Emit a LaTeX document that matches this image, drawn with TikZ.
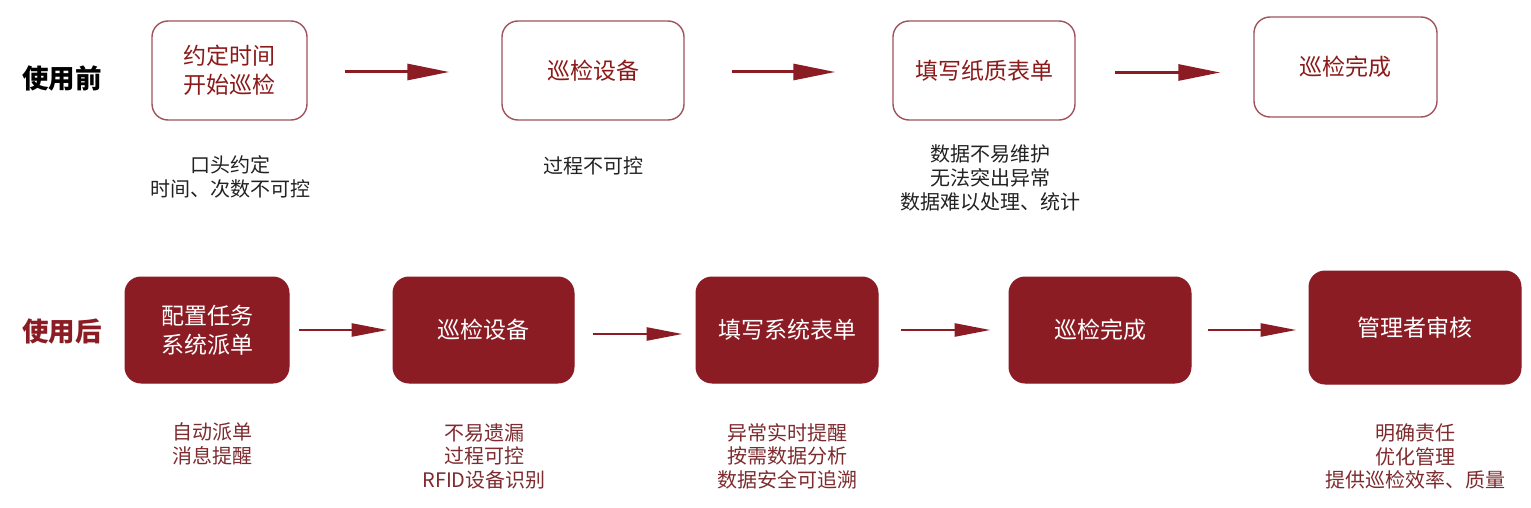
\documentclass[tikz,border=0pt]{standalone}
\usepackage{fontspec}
\setmainfont{Noto Sans CJK SC}
\usetikzlibrary{arrows.meta}
\definecolor{dred}{HTML}{8B1C24}
\definecolor{bord}{HTML}{A0525A}
\definecolor{txtred}{HTML}{8B1A1A}
\definecolor{notered}{HTML}{7D2B2E}
\definecolor{notegray}{HTML}{222222}
\begin{document}
\begin{tikzpicture}[x=1pt,y=-1pt,
  obox/.style={draw=bord, line width=1.4pt, rounded corners=16pt, fill=white, text=txtred,
    align=center, inner sep=0pt, font={\fontsize{23}{29}\selectfont}},
  fbox/.style={draw=dred, line width=1pt, rounded corners=16pt, fill=dred, text=white,
    align=center, inner sep=0pt, font={\fontsize{23}{29}\selectfont}},
  tnote/.style={text=notegray, align=center, inner sep=0pt, font={\fontsize{20}{24}\selectfont}},
  bnote/.style={text=notered, align=center, inner sep=0pt, font={\fontsize{20}{23.5}\selectfont}},
  head/.style={inner sep=0pt, font={\fontsize{26.5}{30}\selectfont\bfseries}},
  tarr/.style={draw=dred, line width=3pt, -{Triangle[length=42pt,width=16pt]}},
  barr/.style={draw=dred, line width=2.6pt, -{Triangle[length=36pt,width=13pt]}}
]
\useasboundingbox (0,0) rectangle (1531,508);

% headings
\node[head, text=black] (h1) at (62,78) {使用前};
\node[head, text=dred] (h2) at (62,331) {使用后};

% top row
\node[obox, minimum width=155pt, minimum height=99pt] (t1) at (229.5,70.5) {约定时间\\开始巡检};
\node[obox, minimum width=182pt, minimum height=99pt] (t2) at (593,70.5) {巡检设备};
\node[obox, minimum width=182pt, minimum height=99pt] (t3) at (984,70.5) {填写纸质表单};
\node[obox, minimum width=183pt, minimum height=100pt] (t4) at (1345.5,67) {巡检完成};

\draw[tarr, shorten <=37pt, shorten >=52pt] ([yshift=-1.5pt]t1.east) -- ([yshift=-1.5pt]t1.east -| t2.west);
\draw[tarr, shorten <=47pt, shorten >=57pt] ([yshift=-1.5pt]t2.east) -- ([yshift=-1.5pt]t2.east -| t3.west);
\draw[tarr, shorten <=39pt, shorten >=33pt] ([yshift=-2pt]t3.east) -- ([yshift=-2pt]t3.east -| t4.west);

\node[tnote] (n1) at (230,177) {口头约定\\时间、次数不可控};
\node[tnote] (n2) at (593,166) {过程不可控};
\node[tnote] (n3) at (990,178) {数据不易维护\\无法突出异常\\数据难以处理、统计};

% bottom row
\node[fbox, minimum width=164pt, minimum height=106pt] (b1) at (207,330) {配置任务\\系统派单};
\node[fbox, minimum width=181pt, minimum height=106pt] (b2) at (483.5,330) {巡检设备};
\node[fbox, minimum width=182pt, minimum height=106pt] (b3) at (787,330) {填写系统表单};
\node[fbox, minimum width=182pt, minimum height=106pt] (b4) at (1100,330) {巡检完成};
\node[fbox, minimum width=212pt, minimum height=113pt] (b5) at (1415,327.5) {管理者审核};

\draw[barr, shorten <=9pt, shorten >=5pt] (b1.east) -- (b1.east -| b2.west);
\draw[barr, shorten <=18pt, shorten >=13pt] ([yshift=-4pt]b2.east) -- ([yshift=-4pt]b2.east -| b3.west);
\draw[barr, shorten <=22pt, shorten >=18pt] (b3.east) -- (b3.east -| b4.west);
\draw[barr, shorten <=16pt, shorten >=12pt] (b4.east) -- (b4.east -| b5.west);

\node[bnote] (m1) at (212,444) {自动派单\\消息提醒};
\node[bnote] (m2) at (484,456) {不易遗漏\\过程可控\\RFID设备识别};
\node[bnote] (m3) at (787,456) {异常实时提醒\\按需数据分析\\数据安全可追溯};
\node[bnote] (m4) at (1415,456.5) {明确责任\\优化管理\\提供巡检效率、质量};
\end{tikzpicture}
\end{document}
